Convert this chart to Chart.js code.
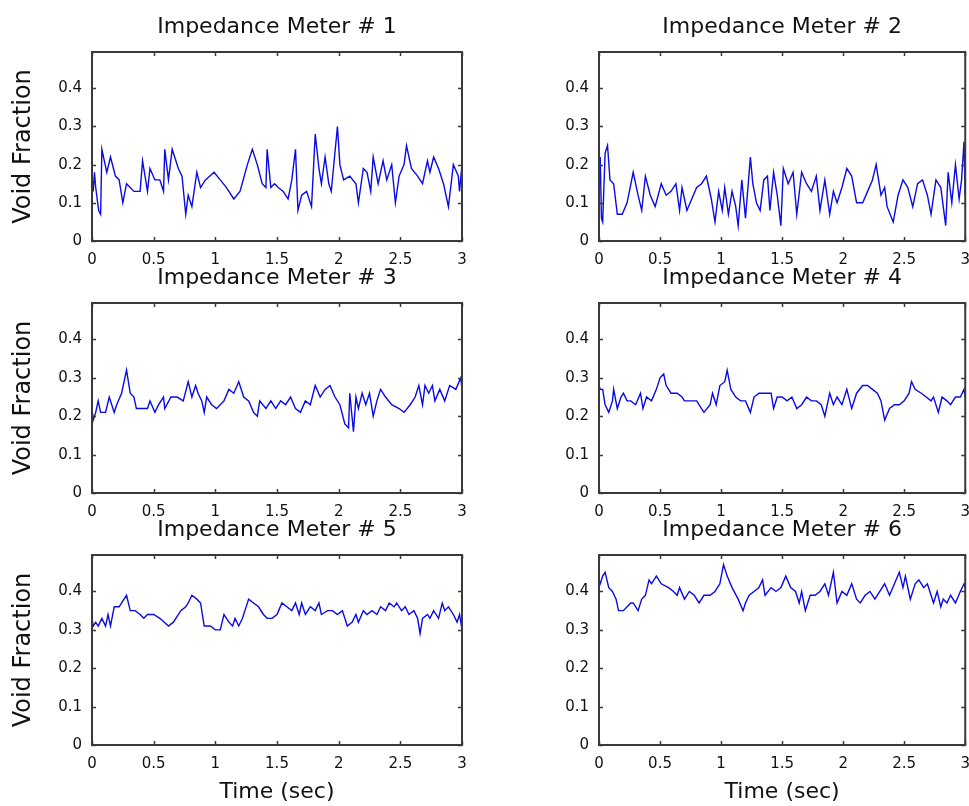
<!DOCTYPE html>
<html>
<head>
<meta charset="utf-8">
<script src="https://cdn.jsdelivr.net/npm/chart.js@4.4.1/dist/chart.umd.min.js"></script>
<style>
  html, body { margin: 0; padding: 0; background: #fff; overflow: hidden; }
  #wrap { position: relative; width: 969px; height: 806px; overflow: hidden; }
  #wrap canvas { position: absolute; }
</style>
</head>
<body>
<div id="wrap">
  <canvas id="m1"></canvas>
  <canvas id="m2"></canvas>
  <canvas id="m3"></canvas>
  <canvas id="m4"></canvas>
  <canvas id="m5"></canvas>
  <canvas id="m6"></canvas>
</div>
<script>
// tick labels
const xTicks = [0, 0.5, 1, 1.5, 2, 2.5, 3];
const yTicks = [0, 0.1, 0.2, 0.3, 0.4];

const titles = ['Impedance Meter # 1', 'Impedance Meter # 2', 'Impedance Meter # 3',
                'Impedance Meter # 4', 'Impedance Meter # 5', 'Impedance Meter # 6'];

// void fraction vs time (sec)
const time1 = [0, 0.01, 0.02, 0.03, 0.054, 0.07, 0.08, 0.12, 0.15, 0.19, 0.22, 0.25, 0.28, 0.34, 0.39, 0.41, 0.45, 0.47, 0.51, 0.55, 0.58, 0.59, 0.62, 0.65, 0.68, 0.70, 0.73, 0.76, 0.78, 0.81, 0.85, 0.88, 0.92, 0.99, 1.04, 1.09, 1.15, 1.20, 1.26, 1.30, 1.34, 1.38, 1.41, 1.42, 1.45, 1.48, 1.51, 1.55, 1.59, 1.62, 1.65, 1.67, 1.70, 1.74, 1.78, 1.81, 1.84, 1.86, 1.89, 1.92, 1.94, 1.99, 2.01, 2.04, 2.09, 2.14, 2.16, 2.20, 2.23, 2.26, 2.28, 2.32, 2.36, 2.39, 2.43, 2.46, 2.49, 2.53, 2.55, 2.59, 2.64, 2.68, 2.72, 2.74, 2.77, 2.81, 2.85, 2.89, 2.93, 2.97, 2.98, 3.0];
const meter1 = [0.17, 0.13, 0.18, 0.14, 0.08, 0.07, 0.24, 0.18, 0.22, 0.17, 0.16, 0.10, 0.15, 0.13, 0.13, 0.21, 0.13, 0.19, 0.16, 0.16, 0.13, 0.24, 0.16, 0.24, 0.21, 0.19, 0.17, 0.07, 0.12, 0.09, 0.18, 0.14, 0.16, 0.18, 0.16, 0.14, 0.11, 0.13, 0.20, 0.24, 0.20, 0.15, 0.14, 0.24, 0.14, 0.15, 0.14, 0.13, 0.11, 0.16, 0.24, 0.08, 0.12, 0.13, 0.09, 0.28, 0.19, 0.15, 0.22, 0.15, 0.13, 0.30, 0.20, 0.16, 0.17, 0.15, 0.10, 0.19, 0.18, 0.13, 0.22, 0.15, 0.21, 0.16, 0.20, 0.10, 0.17, 0.20, 0.25, 0.19, 0.17, 0.15, 0.21, 0.18, 0.22, 0.19, 0.15, 0.09, 0.20, 0.17, 0.13, 0.20];

const time2 = [0, 0.01, 0.02, 0.03, 0.05, 0.07, 0.09, 0.12, 0.15, 0.19, 0.23, 0.28, 0.32, 0.35, 0.38, 0.42, 0.46, 0.51, 0.55, 0.59, 0.63, 0.66, 0.68, 0.72, 0.76, 0.80, 0.84, 0.88, 0.92, 0.95, 0.98, 1.01, 1.03, 1.06, 1.09, 1.12, 1.14, 1.17, 1.20, 1.24, 1.26, 1.29, 1.32, 1.35, 1.38, 1.40, 1.43, 1.46, 1.49, 1.51, 1.55, 1.59, 1.62, 1.66, 1.70, 1.74, 1.78, 1.81, 1.85, 1.89, 1.92, 1.95, 1.99, 2.03, 2.07, 2.11, 2.16, 2.20, 2.24, 2.27, 2.31, 2.34, 2.36, 2.41, 2.45, 2.49, 2.53, 2.57, 2.61, 2.65, 2.69, 2.72, 2.76, 2.80, 2.84, 2.86, 2.89, 2.92, 2.95, 2.97, 2.99, 3.0];
const meter2 = [0.16, 0.22, 0.06, 0.05, 0.23, 0.25, 0.16, 0.15, 0.07, 0.07, 0.10, 0.18, 0.12, 0.08, 0.17, 0.12, 0.09, 0.15, 0.12, 0.13, 0.15, 0.08, 0.14, 0.08, 0.11, 0.14, 0.15, 0.17, 0.11, 0.05, 0.13, 0.08, 0.14, 0.07, 0.13, 0.09, 0.04, 0.16, 0.06, 0.22, 0.15, 0.10, 0.08, 0.16, 0.17, 0.08, 0.18, 0.12, 0.04, 0.19, 0.15, 0.18, 0.07, 0.18, 0.15, 0.13, 0.17, 0.08, 0.16, 0.07, 0.13, 0.10, 0.14, 0.19, 0.17, 0.10, 0.10, 0.13, 0.16, 0.20, 0.12, 0.14, 0.09, 0.05, 0.12, 0.16, 0.14, 0.09, 0.15, 0.16, 0.12, 0.07, 0.16, 0.14, 0.04, 0.18, 0.10, 0.20, 0.11, 0.16, 0.26, 0.12];

const time3 = [0, 0.01, 0.03, 0.05, 0.07, 0.11, 0.14, 0.18, 0.20, 0.24, 0.28, 0.31, 0.34, 0.36, 0.41, 0.45, 0.47, 0.51, 0.54, 0.58, 0.59, 0.64, 0.69, 0.74, 0.78, 0.81, 0.84, 0.86, 0.89, 0.91, 0.93, 0.97, 1.01, 1.07, 1.11, 1.15, 1.19, 1.23, 1.27, 1.31, 1.34, 1.36, 1.41, 1.45, 1.49, 1.53, 1.57, 1.61, 1.65, 1.69, 1.73, 1.77, 1.81, 1.85, 1.89, 1.93, 1.97, 2.01, 2.05, 2.08, 2.09, 2.12, 2.14, 2.16, 2.19, 2.22, 2.25, 2.28, 2.31, 2.34, 2.38, 2.43, 2.49, 2.53, 2.58, 2.62, 2.65, 2.68, 2.70, 2.73, 2.76, 2.78, 2.82, 2.86, 2.90, 2.95, 2.99, 3.0];
const meter3 = [0.22, 0.19, 0.21, 0.24, 0.21, 0.21, 0.25, 0.21, 0.23, 0.26, 0.32, 0.26, 0.25, 0.22, 0.22, 0.22, 0.24, 0.21, 0.23, 0.25, 0.22, 0.25, 0.25, 0.24, 0.29, 0.25, 0.28, 0.26, 0.24, 0.21, 0.25, 0.23, 0.22, 0.24, 0.27, 0.26, 0.29, 0.25, 0.24, 0.21, 0.20, 0.24, 0.22, 0.24, 0.22, 0.24, 0.23, 0.25, 0.22, 0.21, 0.24, 0.23, 0.28, 0.25, 0.27, 0.28, 0.25, 0.23, 0.18, 0.17, 0.26, 0.16, 0.25, 0.22, 0.26, 0.23, 0.26, 0.20, 0.24, 0.27, 0.25, 0.23, 0.22, 0.21, 0.23, 0.25, 0.28, 0.23, 0.28, 0.26, 0.28, 0.24, 0.27, 0.24, 0.28, 0.27, 0.30, 0.27];

const time4 = [0, 0.01, 0.03, 0.05, 0.08, 0.11, 0.12, 0.15, 0.18, 0.20, 0.23, 0.26, 0.30, 0.34, 0.36, 0.39, 0.43, 0.47, 0.50, 0.53, 0.55, 0.59, 0.64, 0.68, 0.70, 0.74, 0.80, 0.84, 0.86, 0.91, 0.93, 0.96, 0.99, 1.03, 1.05, 1.08, 1.12, 1.16, 1.20, 1.24, 1.27, 1.31, 1.36, 1.41, 1.43, 1.46, 1.50, 1.54, 1.58, 1.62, 1.66, 1.70, 1.74, 1.78, 1.82, 1.85, 1.89, 1.92, 1.95, 1.99, 2.03, 2.07, 2.11, 2.16, 2.20, 2.24, 2.28, 2.31, 2.34, 2.38, 2.42, 2.46, 2.50, 2.54, 2.56, 2.59, 2.64, 2.68, 2.72, 2.74, 2.78, 2.81, 2.85, 2.88, 2.92, 2.96, 2.99, 3.0];
const meter4 = [0.28, 0.27, 0.27, 0.23, 0.21, 0.24, 0.27, 0.22, 0.25, 0.26, 0.24, 0.24, 0.23, 0.26, 0.22, 0.25, 0.24, 0.27, 0.30, 0.31, 0.28, 0.26, 0.26, 0.25, 0.24, 0.24, 0.24, 0.22, 0.21, 0.23, 0.26, 0.23, 0.28, 0.29, 0.32, 0.27, 0.25, 0.24, 0.24, 0.21, 0.25, 0.26, 0.26, 0.26, 0.22, 0.25, 0.25, 0.24, 0.25, 0.22, 0.23, 0.25, 0.24, 0.24, 0.23, 0.20, 0.26, 0.23, 0.25, 0.23, 0.27, 0.22, 0.26, 0.28, 0.28, 0.27, 0.26, 0.24, 0.19, 0.22, 0.23, 0.23, 0.24, 0.26, 0.29, 0.27, 0.26, 0.25, 0.24, 0.25, 0.21, 0.25, 0.24, 0.23, 0.25, 0.25, 0.27, 0.25];

const time5 = [0, 0.01, 0.03, 0.05, 0.08, 0.11, 0.13, 0.15, 0.18, 0.22, 0.24, 0.28, 0.31, 0.35, 0.39, 0.42, 0.45, 0.50, 0.55, 0.62, 0.66, 0.72, 0.76, 0.78, 0.81, 0.85, 0.88, 0.91, 0.96, 1.00, 1.04, 1.07, 1.11, 1.14, 1.16, 1.19, 1.22, 1.24, 1.27, 1.31, 1.35, 1.39, 1.42, 1.46, 1.50, 1.54, 1.58, 1.62, 1.65, 1.68, 1.70, 1.73, 1.77, 1.81, 1.84, 1.86, 1.91, 1.95, 1.99, 2.03, 2.07, 2.11, 2.14, 2.16, 2.20, 2.23, 2.27, 2.31, 2.34, 2.38, 2.41, 2.45, 2.47, 2.51, 2.54, 2.57, 2.61, 2.64, 2.66, 2.68, 2.72, 2.74, 2.77, 2.81, 2.84, 2.86, 2.89, 2.93, 2.96, 2.98, 3.0];
const meter5 = [0.33, 0.31, 0.32, 0.31, 0.33, 0.31, 0.34, 0.31, 0.36, 0.36, 0.37, 0.39, 0.35, 0.35, 0.34, 0.33, 0.34, 0.34, 0.33, 0.31, 0.32, 0.35, 0.36, 0.37, 0.39, 0.38, 0.37, 0.31, 0.31, 0.30, 0.30, 0.34, 0.32, 0.31, 0.33, 0.31, 0.33, 0.35, 0.38, 0.37, 0.36, 0.34, 0.33, 0.33, 0.34, 0.37, 0.36, 0.35, 0.37, 0.34, 0.37, 0.34, 0.36, 0.35, 0.37, 0.34, 0.35, 0.35, 0.34, 0.35, 0.31, 0.32, 0.34, 0.32, 0.35, 0.34, 0.35, 0.34, 0.36, 0.35, 0.37, 0.36, 0.37, 0.35, 0.36, 0.34, 0.35, 0.33, 0.29, 0.33, 0.34, 0.33, 0.35, 0.33, 0.37, 0.35, 0.36, 0.34, 0.32, 0.34, 0.30];

const time6 = [0, 0.01, 0.03, 0.05, 0.08, 0.11, 0.14, 0.16, 0.20, 0.23, 0.26, 0.28, 0.32, 0.35, 0.38, 0.41, 0.43, 0.47, 0.51, 0.57, 0.61, 0.64, 0.66, 0.70, 0.74, 0.78, 0.82, 0.86, 0.91, 0.95, 0.99, 1.02, 1.05, 1.09, 1.14, 1.18, 1.20, 1.23, 1.27, 1.31, 1.34, 1.36, 1.41, 1.45, 1.49, 1.53, 1.57, 1.61, 1.64, 1.66, 1.69, 1.73, 1.77, 1.81, 1.85, 1.88, 1.92, 1.95, 1.99, 2.03, 2.07, 2.11, 2.14, 2.18, 2.22, 2.26, 2.30, 2.34, 2.38, 2.42, 2.46, 2.49, 2.51, 2.55, 2.59, 2.62, 2.66, 2.69, 2.72, 2.74, 2.77, 2.80, 2.82, 2.85, 2.88, 2.92, 2.96, 2.99, 3.0];
const meter6 = [0.43, 0.42, 0.44, 0.45, 0.41, 0.40, 0.38, 0.35, 0.35, 0.36, 0.37, 0.37, 0.35, 0.38, 0.39, 0.43, 0.42, 0.44, 0.42, 0.41, 0.40, 0.39, 0.41, 0.38, 0.40, 0.39, 0.37, 0.39, 0.39, 0.40, 0.42, 0.47, 0.44, 0.41, 0.38, 0.35, 0.37, 0.39, 0.40, 0.41, 0.43, 0.39, 0.41, 0.40, 0.41, 0.44, 0.41, 0.40, 0.37, 0.40, 0.35, 0.39, 0.39, 0.40, 0.42, 0.39, 0.45, 0.37, 0.40, 0.39, 0.42, 0.38, 0.37, 0.39, 0.40, 0.38, 0.40, 0.42, 0.39, 0.42, 0.45, 0.41, 0.44, 0.38, 0.42, 0.43, 0.41, 0.42, 0.39, 0.37, 0.40, 0.36, 0.38, 0.37, 0.39, 0.37, 0.40, 0.42, 0.41];

const FONT = "'DejaVu Sans', 'Liberation Sans', sans-serif";
const INK = '#111';
const FRAME = '#3a3a3a';

// matlab style box with inward ticks on all four sides
const boxTicks = {
    id: 'boxTicks',
    afterDatasetsDraw(chart) {
        const { ctx, chartArea: a, scales: { x, y } } = chart;
        const len = 4;
        ctx.save();
        ctx.strokeStyle = FRAME;
        ctx.lineWidth = 1.5;
        ctx.beginPath();
        x.ticks.forEach(t => {
            const px = Math.round(x.getPixelForValue(t.value)) + 0.5;
            ctx.moveTo(px, a.bottom); ctx.lineTo(px, a.bottom - len);
            ctx.moveTo(px, a.top); ctx.lineTo(px, a.top + len);
        });
        y.ticks.forEach(t => {
            const py = Math.round(y.getPixelForValue(t.value)) + 0.5;
            ctx.moveTo(a.left, py); ctx.lineTo(a.left + len, py);
            ctx.moveTo(a.right, py); ctx.lineTo(a.right - len, py);
        });
        ctx.stroke();
        ctx.lineWidth = 2;
        ctx.strokeRect(a.left, a.top, a.right - a.left, a.bottom - a.top);
        ctx.restore();
    }
};

const rows = [
    { top: 0,   height: 270, axisH: 29 },
    { top: 251, height: 271, axisH: 29 },
    { top: 503, height: 303, axisH: 61 }
];
const cols = [
    { left: 0,   width: 480, axisW: 92,  padR: 18 },
    { left: 480, width: 500, axisW: 119, padR: 12 }
];

const series = [
    [time1, meter1], [time2, meter2], [time3, meter3],
    [time4, meter4], [time5, meter5], [time6, meter6]
];

series.forEach(([times, values], i) => {
    const row = rows[Math.floor(i / 2)];
    const col = cols[i % 2];
    const canvas = document.getElementById('m' + (i + 1));
    canvas.width = col.width;
    canvas.height = row.height;
    canvas.style.left = col.left + 'px';
    canvas.style.top = row.top + 'px';

    const points = times.map((t, k) => ({ x: t, y: values[k] }));
    const isLeft = i % 2 === 0;
    const isBottom = i >= 4;

    new Chart(canvas.getContext('2d'), {
        type: 'line',
        data: {
            datasets: [{
                data: points,
                borderColor: '#0a0ae6',
                borderWidth: 1.4,
                pointRadius: 0,
                tension: 0,
                fill: false
            }]
        },
        options: {
            responsive: false,
            animation: false,
            devicePixelRatio: 1,
            layout: { padding: { left: 0, right: col.padR, top: 0, bottom: 0 } },
            plugins: {
                legend: { display: false },
                tooltip: { enabled: false },
                title: {
                    display: true,
                    text: titles[i],
                    fullSize: false,
                    color: INK,
                    font: { family: FONT, size: 22, weight: 'normal' },
                    padding: { top: 14.5, bottom: 11.1 }
                }
            },
            scales: {
                x: {
                    type: 'linear',
                    min: 0,
                    max: 3,
                    afterBuildTicks: s => { s.ticks = xTicks.map(v => ({ value: v })); },
                    afterFit: s => { s.height = row.axisH; },
                    grid: { display: false, drawTicks: false },
                    border: { display: false },
                    ticks: {
                        color: INK,
                        padding: 10,
                        maxRotation: 0,
                        font: { family: FONT, size: 15 },
                        callback: v => String(v)
                    },
                    title: {
                        display: isBottom,
                        text: 'Time (sec)',
                        color: INK,
                        font: { family: FONT, size: 22 },
                        padding: { top: 0, bottom: 1 }
                    }
                },
                y: {
                    type: 'linear',
                    min: 0,
                    max: 0.495,
                    afterBuildTicks: s => { s.ticks = yTicks.map(v => ({ value: v })); },
                    afterFit: s => { s.width = col.axisW; },
                    grid: { display: false, drawTicks: false },
                    border: { display: false },
                    ticks: {
                        color: INK,
                        padding: 10,
                        font: { family: FONT, size: 15 },
                        callback: v => String(v)
                    },
                    title: {
                        display: isLeft,
                        text: 'Void Fraction',
                        color: INK,
                        font: { family: FONT, size: 24 },
                        padding: { top: 9, bottom: 0 }
                    }
                }
            }
        },
        plugins: [boxTicks]
    });
});
</script>
</body>
</html>
